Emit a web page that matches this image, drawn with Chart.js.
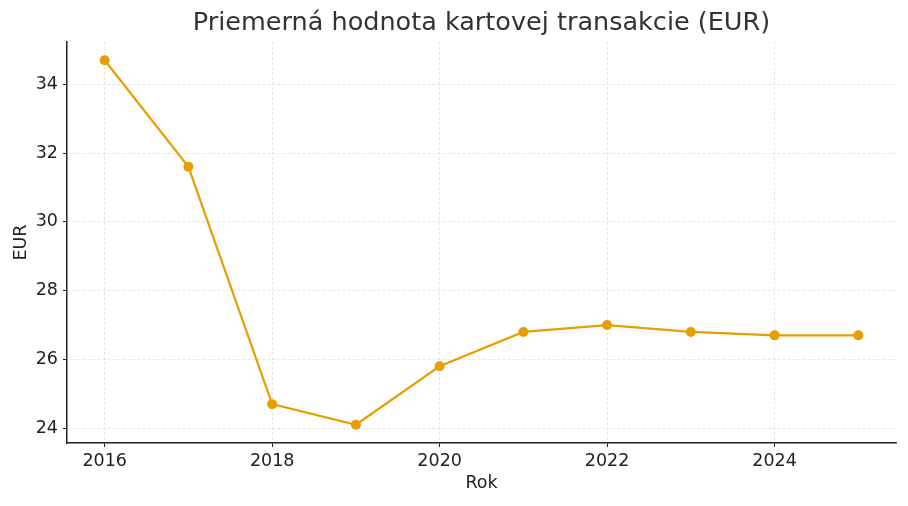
<!DOCTYPE html>
<html><head><meta charset="utf-8">
<script src="https://cdn.jsdelivr.net/npm/chart.js@4/dist/chart.umd.min.js"></script>
<style>html,body{margin:0;padding:0;background:#fff}#w{width:908px;height:506px}</style>
</head><body><div id="w"><canvas id="c" width="908" height="506"></canvas></div>
<script>
const years = [2016, 2017, 2018, 2019, 2020, 2021, 2022, 2023, 2024, 2025];
const values = [34.7, 31.6, 24.7, 24.1, 25.8, 26.8, 27.0, 26.8, 26.7, 26.7];
const xTicks = [2016, 2018, 2020, 2022, 2024];
const yTicks = [24, 26, 28, 30, 32, 34];
const titleText = 'Priemerná hodnota kartovej transakcie (EUR)';
const xLabel = 'Rok';
const yLabel = 'EUR';

const font = 'DejaVu Sans';
const data = years.map((y, i) => ({x: y, y: values[i]}));
const xPad = (Math.max(...years) - Math.min(...years)) * 0.05;
const yPad = (Math.max(...values) - Math.min(...values)) * 0.05;

const axesTitle = {
  id: 'axesTitle',
  afterDraw(chart) {
    const {ctx, chartArea} = chart;
    ctx.save();
    ctx.font = '25.5px "' + font + '"';
    ctx.fillStyle = '#333333';
    ctx.textAlign = 'center';
    ctx.textBaseline = 'middle';
    ctx.fillText(titleText, (chartArea.left + chartArea.right) / 2, 23);
    ctx.restore();
  }
};

new Chart(document.getElementById('c'), {
  type: 'line',
  data: {datasets: [{
    data: data,
    borderColor: '#E69F00',
    backgroundColor: '#E69F00',
    borderWidth: 2.2,
    pointRadius: 5,
    pointHoverRadius: 5,
    pointBorderWidth: 0,
    tension: 0
  }]},
  plugins: [axesTitle],
  options: {
    responsive: false,
    animation: false,
    events: [],
    layout: {padding: {left: 0, right: 12, top: 42, bottom: 0}},
    plugins: {
      legend: {display: false},
      tooltip: {enabled: false},
      title: {display: false}
    },
    scales: {
      x: {
        type: 'linear',
        min: Math.min(...years) - xPad,
        max: Math.max(...years) + xPad,
        afterBuildTicks: s => { s.ticks = xTicks.map(v => ({value: v})); },
        afterFit: s => { s.height = 63; },
        ticks: {color: '#222', font: {family: font, size: 17.5, lineHeight: 1.2}, padding: 3.5, maxRotation: 0,
          callback: v => String(v)},
        grid: {color: '#dedede', lineWidth: 0.8, tickColor: '#222', tickLength: 4, tickWidth: 1, tickBorderDash: []},
        border: {display: true, color: '#222', width: 1.5, dash: [3, 2]},
        title: {display: true, text: xLabel, color: '#222', font: {family: font, size: 17.5, lineHeight: 1.2}, padding: {top: 0, bottom: 12.5}}
      },
      y: {
        type: 'linear',
        min: Math.min(...values) - yPad,
        max: Math.max(...values) + yPad,
        afterBuildTicks: s => { s.ticks = yTicks.map(v => ({value: v})); },
        afterFit: s => { s.width = 67; },
        ticks: {color: '#222', font: {family: font, size: 17.5, lineHeight: 1.2}, padding: 5,
          callback: v => String(v)},
        grid: {color: '#dedede', lineWidth: 0.8, tickColor: '#222', tickLength: 4, tickWidth: 1, tickBorderDash: []},
        border: {display: true, color: '#222', width: 1.5, dash: [3, 2]},
        title: {display: true, text: yLabel, color: '#222', font: {family: font, size: 17.5, lineHeight: 1.2}, padding: {top: 10.5, bottom: 10.5}}
      }
    }
  }
});
</script></body></html>
